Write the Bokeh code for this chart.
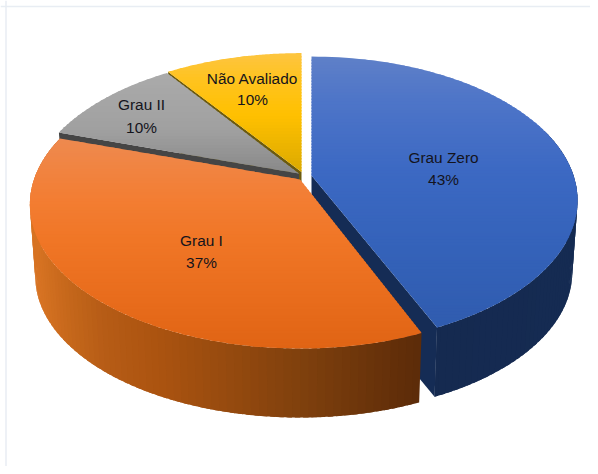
import numpy as np
from bokeh.plotting import figure
from bokeh.models import ColumnDataSource, Range1d, Span
from bokeh.core.properties import value
from bokeh.embed import file_html
from bokeh.resources import INLINE

# ---- data (percent of the whole, clockwise from 12 o'clock) ----
categories = ["Grau Zero", "Grau I", "Grau II", "Não Avaliado"]
shares = [43.4, 36.6, 10.4, 9.6]
share_labels = ["43%", "37%", "10%", "10%"]

# ---- layout ----
W, H = 590, 466
CX, CY = 299.5, 179.0
K, A, B = -0.174, 139.6, 266.0
DZ, WALL_SCALE = 72.4, 0.98
slice_shift = {"Grau Zero": (11.5, -4.0), "Grau I": (0.0, 0.0),
               "Grau II": (-1.0, -6.0), "Não Avaliado": (1.5, -7.5)}
slice_scale = {"Grau Zero": 0.985, "Grau I": 1.0, "Grau II": 1.0, "Não Avaliado": 1.0}
start_nudge = {"Grau Zero": 0.0, "Grau I": 1.2, "Grau II": 0.0, "Não Avaliado": -0.4}
label_name_xy = {"Grau Zero": (443, 157), "Grau I": (201, 240),
                 "Grau II": (141, 104), "Não Avaliado": (252, 78)}
label_pct_xy = {"Grau Zero": (443, 179), "Grau I": (201, 262),
                "Grau II": (141, 127), "Não Avaliado": (252, 99)}
top_stops = {
    "Grau Zero": [(56, (95, 128, 200)), (100, (78, 117, 200)), (170, (60, 105, 195)),
                  (250, (52, 98, 185)), (325, (48, 92, 175))],
    "Grau I": [(137, (238, 138, 80)), (200, (243, 125, 50)), (240, (240, 118, 38)),
               (300, (232, 108, 28)), (348, (224, 100, 20))],
    "Grau II": [(75, (170, 170, 170)), (130, (160, 160, 160)), (175, (135, 135, 135))],
    "Não Avaliado": [(52, (253, 197, 65)), (80, (255, 195, 30)), (115, (255, 192, 0)),
                     (170, (220, 170, 0))],
}
radial_wall_color = {"Grau Zero": "#152c55", "Grau II": "#454545", "Não Avaliado": "#6b5a0e"}
blue_wall = [(300, (20, 40, 78)), (570, (21, 43, 82))]
orange_wall = [(35, (215, 115, 35)), (60, (200, 105, 28)), (100, (182, 92, 22)),
               (152, (172, 84, 16)), (305, (125, 63, 13)), (400, (97, 46, 9)), (425, (90, 42, 9))]


def project(deg, name, r=1.0, wall=False):
    a = np.radians(np.asarray(deg, dtype=float))
    u, v = r * np.sin(a), -r * np.cos(a)
    den = 1 + K * v
    x, y = B * u / den * slice_scale[name], A * v / den
    sx, sy = slice_shift[name]
    if wall:
        return CX + sx + WALL_SCALE * x, CY + sy + WALL_SCALE * y + DZ
    return CX + sx + x, CY + sy + y


def ramp(t, stops):
    ts = [s[0] for s in stops]
    return "#%02x%02x%02x" % tuple(
        int(round(np.interp(t, ts, [s[1][i] for s in stops]))) for i in range(3))


def clip_band(pts, y0, y1):
    def clip(poly, inside, cross):
        out = []
        for i in range(len(poly)):
            p, q = poly[i - 1], poly[i]
            if inside(q):
                if not inside(p):
                    out.append(cross(p, q))
                out.append(q)
            elif inside(p):
                out.append(cross(p, q))
        return out

    def at(level):
        return lambda p, q: (p[0] + (q[0] - p[0]) * (level - p[1]) / (q[1] - p[1]), level)

    poly = clip(pts, lambda p: p[1] >= y0, at(y0))
    if poly:
        poly = clip(poly, lambda p: p[1] <= y1, at(y1))
    return poly


p = figure(width=W, height=H, output_backend="svg", toolbar_location=None,
           x_range=Range1d(0, W), y_range=Range1d(H, 0),
           min_border=0, outline_line_color=None, background_fill_color="white",
           border_fill_color="white")
p.axis.visible = False
p.grid.visible = False

xs, ys, cols = [], [], []


def add(px, py, col):
    xs.append(list(px))
    ys.append(list(py))
    cols.append(col)


bounds = np.cumsum([0.0] + shares) * 3.6
span = {c: (bounds[i] + start_nudge[c], bounds[i + 1]) for i, c in enumerate(categories)}


def radial_wall(name, deg):
    cx_t, cy_t = project(deg, name, 0.0)
    ex_t, ey_t = project(deg, name)
    cx_b, cy_b = project(deg, name, 0.0, True)
    ex_b, ey_b = project(deg, name, 1.0, True)
    add([cx_t, ex_t, ex_b, cx_b], [cy_t, ey_t, ey_b, cy_b], radial_wall_color[name])


def outer_wall(name, d0, d1, stops, step=1.5):
    # strips overlap their neighbour so that no seam shows
    starts = np.arange(d0, d1, step)
    for a0 in starts:
        degs = np.linspace(a0, min(a0 + step + 1.0, d1), 5)
        tx, ty = project(degs, name)
        bx, by = project(degs, name, 1.0, True)
        add(list(tx) + list(bx[::-1]), list(ty) + list(by[::-1]), ramp(float(tx.mean()), stops))


def top_face(name, step=3.0):
    d0, d1 = span[name]
    degs = np.linspace(d0, d1, 90)
    ax, ay = project(degs, name)
    ox, oy = project(d0, name, 0.0)
    poly = [(float(ox), float(oy))] + list(zip(ax.tolist(), ay.tolist()))
    ylo, yhi = min(q[1] for q in poly), max(q[1] for q in poly)
    # each band reaches 1.5 px into the next one, which paints over it
    for y0 in np.arange(ylo, yhi, step):
        band = clip_band(poly, y0, y0 + step + 1.5)
        if len(band) >= 3:
            add([q[0] for q in band], [q[1] for q in band], ramp(y0 + step / 2, top_stops[name]))


# back to front
radial_wall("Não Avaliado", span["Não Avaliado"][0])
top_face("Não Avaliado")
radial_wall("Grau II", span["Grau II"][0])
top_face("Grau II")
radial_wall("Grau Zero", span["Grau Zero"][1])
outer_wall("Grau Zero", 70, span["Grau Zero"][1], blue_wall)
top_face("Grau Zero")
outer_wall("Grau I", span["Grau I"][0], span["Grau I"][1], orange_wall)
top_face("Grau I")

p.patches("xs", "ys", source=ColumnDataSource(dict(xs=xs, ys=ys, c=cols)),
          fill_color="c", line_color=None)

label_x, label_y, label_t = [], [], []
for c, s in zip(categories, share_labels):
    for xy, t in ((label_name_xy[c], c), (label_pct_xy[c], s)):
        label_x.append(xy[0])
        label_y.append(xy[1])
        label_t.append(t)
p.text(label_x, label_y, text=label_t, text_font=value("Liberation Sans"),
       text_font_size="15.4px", text_color="#14141c",
       text_align="center", text_baseline="middle")

p.add_layout(Span(location=5.5, dimension="height", line_color="#e8edf3", line_width=1.5))
p.add_layout(Span(location=6, dimension="width", line_color="#e8edf3", line_width=1.5))

open("out.html", "w").write(file_html(p, INLINE))
